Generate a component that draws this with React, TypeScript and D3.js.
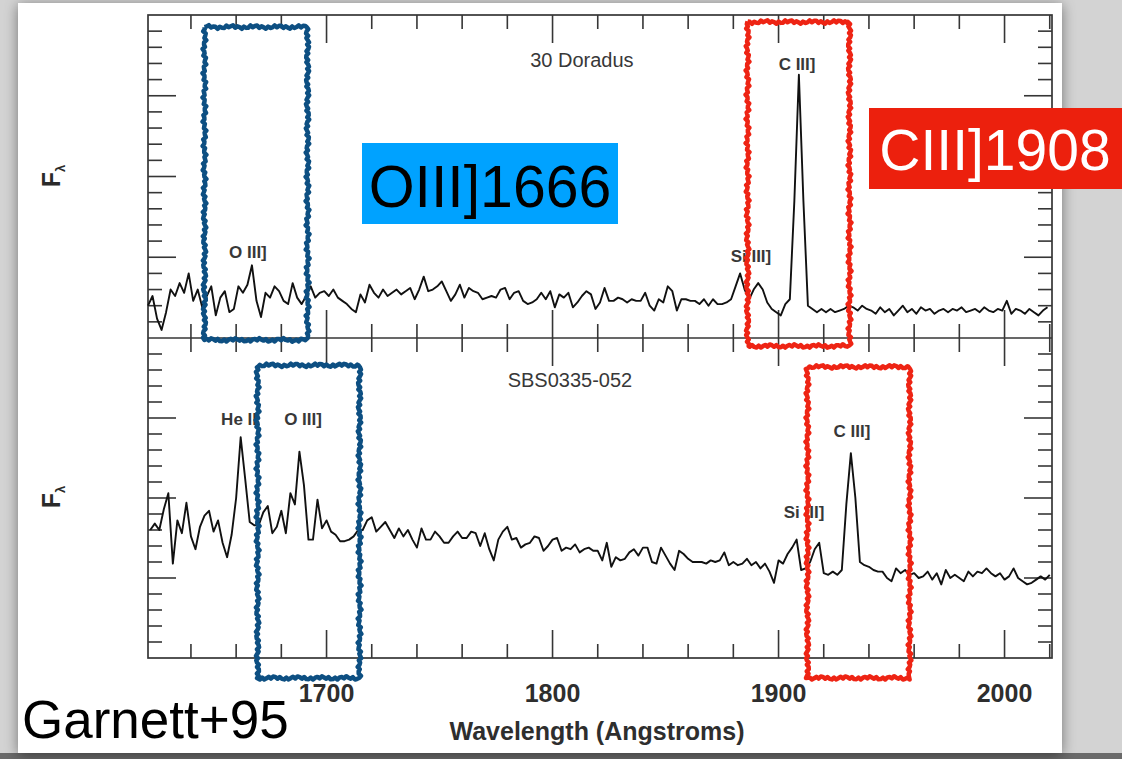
import React from "react";
import * as d3 from "d3";

// ---------- data ----------
const topStart = 1621; // Å, first sample of 30 Doradus spectrum
const botStart = 1622; // Å, first sample of SBS0335-052 spectrum
const sampleStep = 2; // Å

// 30 Doradus (arbitrary flux units, panel 0-20)
const fluxDoradus = [
  2.0, 2.6, 1.2, 0.5, 1.6, 3.0, 2.6, 3.4, 2.8, 4.0,
  2.3, 3.0, 1.9, 2.6, 3.2, 1.4, 2.5, 2.9, 1.6, 1.8,
  3.2, 2.8, 3.3, 4.5, 2.3, 1.3, 2.8, 2.5, 3.2, 2.9,
  2.3, 2.1, 3.4, 2.5, 2.1, 2.6, 3.2, 2.5, 2.8, 2.9,
  2.6, 3.0, 2.5, 2.3, 2.1, 1.8, 1.6, 2.7, 2.2, 3.3,
  2.8, 2.5, 3.0, 2.6, 2.8, 3.0, 2.7, 2.9, 3.1, 2.4,
  3.0, 3.8, 2.9, 3.0, 3.2, 3.5, 2.9, 2.3, 2.7, 3.3,
  2.5, 3.1, 2.9, 2.8, 2.4, 2.5, 2.6, 2.5, 3.0, 3.1,
  2.4, 2.8, 2.9, 2.3, 2.1, 2.2, 2.4, 2.8, 2.4, 2.9,
  1.9, 2.7, 2.5, 2.8, 1.9, 2.2, 2.6, 2.9, 2.7, 1.8,
  2.2, 3.1, 2.3, 2.3, 2.5, 2.4, 2.2, 2.4, 2.3, 2.3,
  2.8, 2.0, 1.7, 2.4, 2.2, 3.2, 2.9, 1.7, 2.4, 2.4,
  2.3, 2.3, 2.1, 2.4, 2.0, 2.4, 2.1, 2.1, 2.2, 2.4,
  3.2, 4.0, 3.0, 2.4, 3.0, 3.4, 3.0, 2.2, 1.8, 1.6,
  1.4, 2.1, 2.4, 8.5, 16.3, 8.5, 2.0, 1.8, 1.6, 1.8,
  1.6, 1.8, 1.6, 1.7, 1.8, 2.0, 1.9, 1.7, 2.0, 1.8,
  1.7, 1.5, 1.9, 1.6, 1.8, 1.4, 1.7, 2.0, 1.6, 1.8,
  1.5, 1.9, 1.7, 1.8, 1.5, 1.7, 1.8, 1.6, 1.8, 1.7,
  1.9, 1.6, 1.7, 1.8, 1.6, 1.9, 1.7, 1.6, 1.8, 1.7,
  2.3, 1.5, 1.8, 1.7, 1.5, 1.8, 1.6, 1.4, 1.7, 1.9,
];

// SBS0335-052
const fluxSBS = [
  8.0, 8.4, 8.0, 9.3, 10.3, 5.9, 8.6, 7.8, 9.7, 7.6,
  6.8, 8.2, 8.9, 9.2, 7.9, 8.6, 7.2, 6.3, 7.7, 10.0,
  13.8, 11.2, 8.5, 8.3, 8.3, 9.1, 9.5, 7.8, 8.2, 9.2,
  7.8, 10.3, 9.6, 12.9, 10.8, 7.4, 7.4, 9.9, 8.1, 8.6,
  7.9, 7.7, 7.3, 7.3, 7.4, 7.6, 8.0, 8.0, 8.6, 8.8,
  7.9, 8.2, 8.5, 8.0, 7.5, 8.1, 7.6, 8.0, 7.4, 6.9,
  8.1, 7.4, 7.4, 7.9, 7.6, 7.2, 7.2, 7.6, 7.9, 7.5,
  7.5, 7.9, 7.8, 7.0, 7.8, 6.8, 6.1, 7.4, 7.9, 8.2,
  7.4, 7.5, 6.9, 7.1, 7.2, 7.6, 7.5, 6.7, 7.0, 7.4,
  7.5, 6.7, 6.9, 6.8, 7.1, 6.6, 6.8, 6.9, 6.7, 6.7,
  6.1, 7.2, 5.7, 6.3, 6.1, 6.2, 6.6, 6.8, 6.4, 6.9,
  6.9, 6.0, 5.9, 6.9, 6.4, 5.9, 5.5, 6.7, 6.5, 6.2,
  6.0, 6.0, 6.0, 5.9, 6.1, 6.0, 6.1, 6.6, 5.8, 6.0,
  5.8, 5.9, 6.2, 5.8, 6.0, 5.6, 5.9, 5.4, 4.7, 6.1,
  5.9, 6.5, 6.9, 7.4, 5.5, 5.6, 6.0, 6.8, 7.2, 5.3,
  5.2, 5.4, 5.2, 5.5, 9.6, 12.8, 10.0, 6.0, 5.8, 5.7,
  5.5, 5.4, 5.4, 5.0, 4.8, 5.6, 5.3, 5.5, 5.2, 5.3,
  5.0, 5.1, 5.4, 4.9, 5.3, 4.6, 5.5, 5.0, 5.2, 5.0,
  4.8, 5.4, 5.1, 5.4, 5.3, 5.6, 5.3, 5.1, 5.3, 4.9,
  5.1, 5.6, 5.0, 4.8, 4.6, 4.7, 4.9, 5.1, 4.9, 5.2,
];

const xMajorTicks = [1700, 1800, 1900, 2000];
const xMinorTicks = [1640, 1660, 1680, 1700, 1720, 1740, 1760, 1780, 1800, 1820, 1840, 1860, 1880, 1900, 1920, 1940, 1960, 1980, 2000, 2020];
const yTicks = [1, 2, 3, 4, 5, 6, 7, 8, 9, 10, 11, 12, 13, 14, 15, 16, 17, 18, 19];
const yMajorTicks = [5, 10, 15];

const topLabels = [
  { text: "O III]", wl: 1665.2, f: 4.95 },
  { text: "Si III]", wl: 1887.8, f: 4.7 },
  { text: "C III]", wl: 1908.2, f: 16.6 },
];
const botLabels = [
  { text: "He II", wl: 1661.3, f: 14.56 },
  { text: "O III]", wl: 1689.6, f: 14.56 },
  { text: "Si III]", wl: 1911.3, f: 8.75 },
  { text: "C III]", wl: 1932.5, f: 13.8 },
];
const topTitle = { text: "30 Doradus", wl: 1813, f: 16.8 };
const botTitle = { text: "SBS0335-052", wl: 1807.7, f: 16.94 };

// hand-drawn highlight boxes (wavelength range, flux range within panel)
const blueBoxes = [
  { panel: "top", wl0: 1646.0, wl1: 1691.6, f0: -0.12, f1: 19.26 },
  { panel: "bot", wl0: 1669.5, wl1: 1714.6, f0: -1.25, f1: 18.3 },
];
const redBoxes = [
  { panel: "top", wl0: 1886.3, wl1: 1931.4, f0: -0.5, f1: 19.57 },
  { panel: "bot", wl0: 1912.8, wl1: 1958.0, f0: -1.25, f1: 18.2 },
];

const FONT = "'Liberation Sans', Arial, Helvetica, sans-serif";

function roughRectPath(x0: number, y0: number, x1: number, y1: number, seed: number) {
  const pts: [number, number][] = [];
  const corners: [number, number][] = [[x0, y0], [x1, y0], [x1, y1], [x0, y1], [x0, y0]];
  let k = seed;
  for (let s = 0; s < 4; s++) {
    const [ax, ay] = corners[s];
    const [bx, by] = corners[s + 1];
    const len = Math.hypot(bx - ax, by - ay);
    const n = Math.max(2, Math.round(len / 2.2));
    const nx = -(by - ay) / len;
    const ny = (bx - ax) / len;
    for (let i = 0; i < n; i++) {
      const t = i / n;
      const o = 1.2 * Math.sin(k * 2.3) + 0.8 * Math.sin(k * 5.7 + 1);
      pts.push([ax + (bx - ax) * t + nx * o, ay + (by - ay) * t + ny * o]);
      k++;
    }
  }
  pts.push(pts[0]);
  return d3.line()(pts) as string;
}

export default function App() {
  const W = 1122;
  const H = 759;
  const x = d3.scaleLinear().domain([1621, 2021]).range([148, 1052]);
  const yTop = d3.scaleLinear().domain([0, 20]).range([338, 15]);
  const yBot = d3.scaleLinear().domain([0, 20]).range([658, 338]);

  const topData = fluxDoradus.map((f, i) => [topStart + i * sampleStep, f] as [number, number]);
  const botData = fluxSBS.map((f, i) => [botStart + i * sampleStep, f] as [number, number]);
  const lineTop = d3.line<[number, number]>().x((d) => x(d[0])).y((d) => yTop(d[1]));
  const lineBot = d3.line<[number, number]>().x((d) => x(d[0])).y((d) => yBot(d[1]));

  const frame = "#363636";
  const minorLen = 14;
  const majorLen = 28;
  const x0 = x.range()[0];
  const x1 = x.range()[1];

  const xTickLines: JSX.Element[] = [];
  xMinorTicks.forEach((t) => {
    const len = xMajorTicks.includes(t) ? majorLen : minorLen;
    const px = x(t);
    if (px > x1) return;
    xTickLines.push(<line key={`a${t}`} x1={px} x2={px} y1={yTop(20)} y2={yTop(20) + len} />);
    xTickLines.push(<line key={`b${t}`} x1={px} x2={px} y1={yTop(0) - len} y2={yTop(0) + len} />);
    xTickLines.push(<line key={`c${t}`} x1={px} x2={px} y1={yBot(0)} y2={yBot(0) - len} />);
  });
  const yTickLines: JSX.Element[] = [];
  [yTop, yBot].forEach((ys, pi) => {
    yTicks.forEach((t) => {
      const len = yMajorTicks.includes(t) ? majorLen : minorLen;
      const py = ys(t);
      yTickLines.push(<line key={`l${pi}-${t}`} x1={x0} x2={x0 + len} y1={py} y2={py} />);
      yTickLines.push(<line key={`r${pi}-${t}`} x1={x1} x2={x1 - len} y1={py} y2={py} />);
    });
  });

  const boxPath = (b: { panel: string; wl0: number; wl1: number; f0: number; f1: number }, seed: number) => {
    const ys = b.panel === "top" ? yTop : yBot;
    return roughRectPath(x(b.wl0), ys(b.f1), x(b.wl1), ys(b.f0), seed);
  };

  return (
    <svg
      width={W}
      height={H}
      style={{ position: "fixed", left: 0, top: 0, display: "block" }}
      xmlns="http://www.w3.org/2000/svg"
    >
      <defs>
        <filter id="shadow" x="-5%" y="-5%" width="110%" height="110%">
          <feDropShadow dx="0" dy="2" stdDeviation="7" floodColor="#000" floodOpacity="0.45" />
        </filter>
      </defs>
      <rect x={0} y={0} width={W} height={H} fill="#d3d3d3" />
      <rect x={0} y={753} width={W} height={6} fill="#6a6a6a" />
      <rect x={18} y={3} width={1044} height={750} fill="#ffffff" filter="url(#shadow)" />

      {/* frame */}
      <g stroke={frame} strokeWidth={1.7} fill="none">
        <rect x={x0} y={yTop(20)} width={x1 - x0} height={yBot(0) - yTop(20)} />
        <line x1={x0} x2={x1} y1={yTop(0)} y2={yTop(0)} />
      </g>
      <g stroke={frame} strokeWidth={1.6}>
        {xTickLines}
        {yTickLines}
      </g>

      {/* spectra */}
      <path d={lineTop(topData) as string} fill="none" stroke="#111" strokeWidth={1.9} strokeLinejoin="round" />
      <path d={lineBot(botData) as string} fill="none" stroke="#111" strokeWidth={1.9} strokeLinejoin="round" />

      {/* panel titles & line labels */}
      <g fontFamily={FONT} fill="#383838" textAnchor="middle">
        <text x={x(topTitle.wl)} y={yTop(topTitle.f)} fontSize={20}>{topTitle.text}</text>
        <text x={x(botTitle.wl)} y={yBot(botTitle.f)} fontSize={20}>{botTitle.text}</text>
        {topLabels.map((l) => (
          <text key={"t" + l.text} x={x(l.wl)} y={yTop(l.f)} fontSize={17} fontWeight="bold">{l.text}</text>
        ))}
        {botLabels.map((l) => (
          <text key={"b" + l.text} x={x(l.wl)} y={yBot(l.f)} fontSize={17} fontWeight="bold">{l.text}</text>
        ))}
      </g>

      {/* axis tick labels */}
      <g fontFamily={FONT} fill="#2e2e2e" textAnchor="middle" fontSize={25} fontWeight="bold">
        {xMajorTicks.map((t) => (
          <text key={t} x={x(t)} y={702}>{t}</text>
        ))}
        <text x={597} y={740}>Wavelength (Angstroms)</text>
      </g>

      {/* y labels F_lambda */}
      {[176, 497].map((cy) => (
        <text key={cy} transform={`translate(60,${cy}) rotate(-90)`} fontFamily={FONT} fill="#2a2a2a" textAnchor="middle">
          <tspan fontSize={25} fontWeight="bold">F</tspan>
          <tspan fontSize={13} fontWeight="bold" dy={5}>λ</tspan>
        </text>
      ))}

      {/* hand-drawn boxes */}
      {blueBoxes.map((b, i) => (
        <path key={"bb" + i} d={boxPath(b, i * 17 + 3)} fill="none" stroke="#0d4f82" strokeWidth={4.5} strokeLinejoin="round" />
      ))}
      {redBoxes.map((b, i) => (
        <path key={"rb" + i} d={boxPath(b, i * 13 + 7)} fill="none" stroke="#ee2414" strokeWidth={4.5} strokeLinejoin="round" />
      ))}

      {/* callout labels */}
      <rect x={362} y={143} width={256} height={81} fill="#00a2ff" />
      <text x={490} y={207} textAnchor="middle" fontFamily={FONT} fontSize={59} fill="#000">OIII]1666</text>
      <rect x={869} y={108} width={253} height={81} fill="#ec200d" />
      <text x={995} y={170} textAnchor="middle" fontFamily={FONT} fontSize={57} fill="#fff">CIII]1908</text>

      <text x={22} y={738} fontFamily={FONT} fontSize={53} fill="#000">Garnett+95</text>
    </svg>
  );
}
